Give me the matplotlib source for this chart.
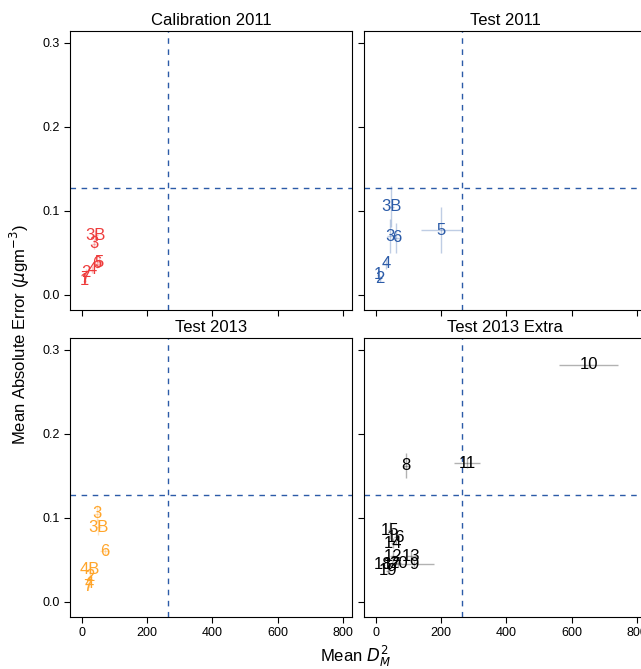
import matplotlib.pyplot as plt

plt.rcParams['font.family'] = ['Liberation Sans', 'DejaVu Sans']

hline = 0.127
vline = 265

cal_lab = ["3B", "3", "5", "6", "4", "2", "7", "1"]
cal_x = [40, 37, 52, 46, 31, 12, 9, 8]
cal_y = [0.071, 0.061, 0.039, 0.037, 0.030, 0.027, 0.020, 0.017]
cal_xe = [8, 6, 8, 8, 6, 4, 4, 4]
cal_ye = [0.006, 0.006, 0.005, 0.005, 0.004, 0.004, 0.003, 0.003]

t11_lab = ["3B", "3", "6", "5", "4", "1", "2"]
t11_x = [46, 43, 62, 200, 31, 6, 12]
t11_y = [0.105, 0.070, 0.068, 0.077, 0.037, 0.024, 0.019]
t11_xe = [10, 10, 12, 62, 6, 4, 4]
t11_ye = [0.024, 0.020, 0.018, 0.027, 0.006, 0.004, 0.004]

t13_lab = ["3", "3B", "6", "4B", "2", "4", "7"]
t13_x = [46, 49, 70, 25, 24, 21, 18]
t13_y = [0.105, 0.089, 0.060, 0.039, 0.030, 0.022, 0.018]
t13_xe = [8, 10, 14, 8, 6, 6, 4]
t13_ye = [0.010, 0.010, 0.004, 0.006, 0.005, 0.004, 0.004]

ext_lab = ["10", "11", "8", "15", "16", "14", "12", "13", "9", "18", "17", "19", "20"]
ext_x = [652, 280, 92, 43, 62, 52, 52, 108, 117, 22, 50, 37, 68]
ext_y = [0.282, 0.165, 0.162, 0.085, 0.077, 0.070, 0.054, 0.054, 0.045, 0.044, 0.045, 0.037, 0.046]
ext_xe = [90, 40, 10, 6, 8, 6, 8, 20, 62, 6, 8, 6, 10]
ext_ye = [0.004, 0.006, 0.015, 0.010, 0.008, 0.006, 0.006, 0.006, 0.004, 0.004, 0.004, 0.004, 0.004]

panels = [
    ("Calibration 2011", cal_lab, cal_x, cal_y, cal_xe, cal_ye, "#EE3B3B"),
    ("Test 2011", t11_lab, t11_x, t11_y, t11_xe, t11_ye, "#2B5BA8"),
    ("Test 2013", t13_lab, t13_x, t13_y, t13_xe, t13_ye, "#FFA52A"),
    ("Test 2013 Extra", ext_lab, ext_x, ext_y, ext_xe, ext_ye, "#000000"),
]

W, H = 641, 669
fig = plt.figure(figsize=(W / 100, H / 100), dpi=100)
boxes = [(70, 31), (364, 31), (70, 338), (364, 338)]
pw, ph = 282, 279

for i, (title, lab, x, y, xe, ye, col) in enumerate(panels):
    l, t = boxes[i]
    ax = fig.add_axes([l / W, 1 - (t + ph) / H, pw / W, ph / H])
    ax.errorbar(x, y, xerr=xe, yerr=ye, fmt="none", ecolor=col, alpha=0.3, lw=1)
    for s, xi, yi in zip(lab, x, y):
        ax.text(xi, yi, s, color=col, fontsize=12, ha="center", va="center")
    ax.axhline(hline, color="#2B5BA8", ls=(0, (4, 4)), lw=1)
    ax.axvline(vline, color="#2B5BA8", ls=(0, (4, 4)), lw=1)
    ax.set_xlim(-37, 828)
    ax.set_ylim(-0.018, 0.314)
    ax.set_xticks([0, 200, 400, 600, 800])
    ax.set_yticks([0, 0.1, 0.2, 0.3])
    ax.set_title(title, fontsize=12, pad=4)
    ax.tick_params(labelsize=9, direction="out", length=4)
    if i < 2:
        ax.tick_params(labelbottom=False)
    if i % 2 == 1:
        ax.tick_params(labelleft=False)
    else:
        ax.set_yticklabels(["0.0", "0.1", "0.2", "0.3"])

fig.text(20 / W, 0.5, r"Mean Absolute Error ($\mu$gm$^{-3}$)", rotation=90,
         ha="center", va="center", fontsize=12)
fig.text(355 / W, 1 - 656 / H, r"Mean $D^2_M$", ha="center", va="center", fontsize=12)

fig.savefig("out.png", dpi=100)
